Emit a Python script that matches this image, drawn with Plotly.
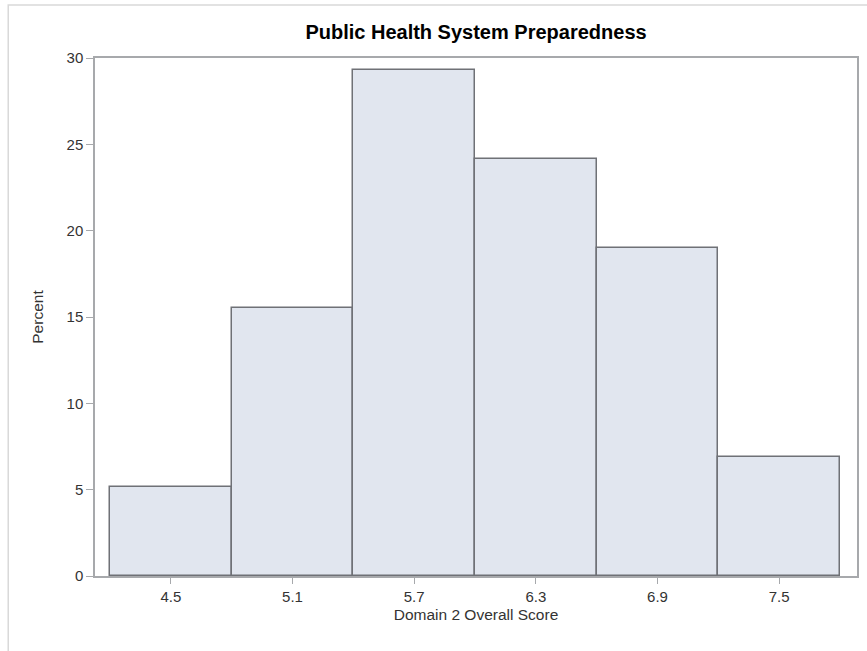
import plotly.graph_objects as go

bin_centers = [4.5, 5.1, 5.7, 6.3, 6.9, 7.5]
percents = [5.17, 15.52, 29.31, 24.14, 18.97, 6.90]
tick_labels = ["4.5", "5.1", "5.7", "6.3", "6.9", "7.5"]
y_ticks = [0, 5, 10, 15, 20, 25, 30]

fig = go.Figure()
fig.add_trace(go.Bar(
    x=bin_centers, y=percents, width=0.6,
    marker=dict(color="#E1E6EF", line=dict(color="#6F7176", width=1.5)),
    showlegend=False, hoverinfo="skip",
))

font_family = "Liberation Sans, Arial, sans-serif"
fig.update_layout(
    width=867, height=651,
    margin=dict(l=95, r=8, t=58, b=75),
    paper_bgcolor="white", plot_bgcolor="white",
    bargap=0,
    font=dict(family=font_family, color="#333333", size=14),
    title=dict(text="<b>Public Health System Preparedness</b>", x=0.5, xref="paper",
               xanchor="center", y=1 - 32 / 651, yanchor="middle",
               font=dict(size=20, color="#000000", family=font_family)),
    xaxis=dict(range=[4.126, 7.884], tickvals=bin_centers, ticktext=tick_labels,
               showgrid=False, zeroline=False, showline=True, mirror=True,
               linecolor="#A7A9AC", linewidth=1.5, ticks="outside", ticklen=6,
               tickcolor="#A7A9AC", tickfont=dict(size=15, color="#333333"),
               title=dict(text="Domain 2 Overall Score", standoff=5,
                          font=dict(size=15.5, color="#333333"))),
    yaxis=dict(range=[0, 30], tickvals=y_ticks,
               showgrid=False, zeroline=False, showline=True, mirror=True,
               linecolor="#A7A9AC", linewidth=1.5, ticks="outside", ticklen=7,
               tickcolor="#A7A9AC", tickfont=dict(size=15, color="#333333"),
               title=dict(text="Percent", standoff=19,
                          font=dict(size=15.5, color="#333333"))),
    shapes=[dict(type="rect", xref="paper", yref="paper",
                 x0=-87 / 764, x1=1.02, y0=-0.2, y1=1 + 53 / 518,
                 line=dict(color="#D9D9D9", width=1.5), fillcolor="rgba(0,0,0,0)",
                 layer="below")],
)

fig.write_html("out.html", config={"displayModeBar": False},
               post_script="document.body.style.margin='0';")
